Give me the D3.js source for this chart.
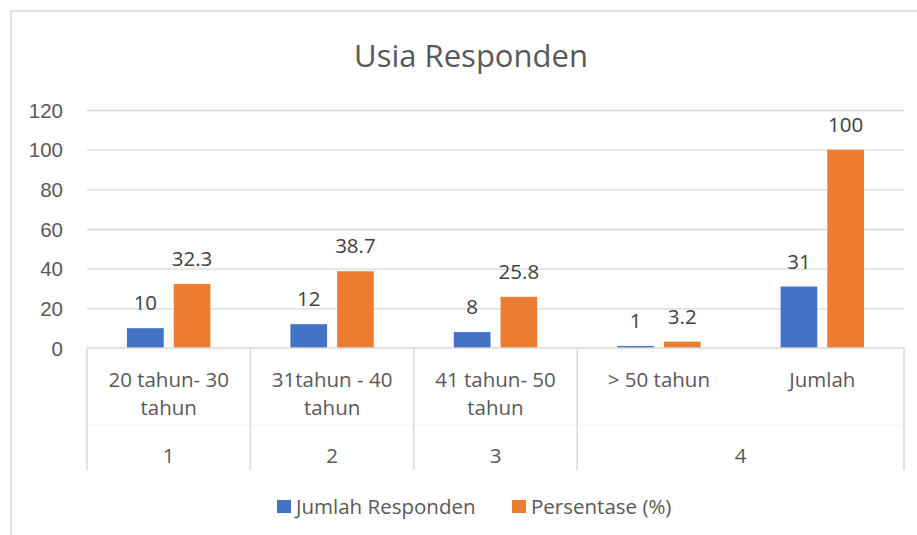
<!DOCTYPE html>
<meta charset="utf-8">
<head>
  <style>
    body { margin: 0; background: #fff; }
    svg { font-family: "Open Sans", sans-serif; }
    .grid line { stroke: #d9d9d9; stroke-width: 1.3px; }
    .grid path { display: none; }
    .yaxis text { fill: #595959; font-size: 20.5px; }
    .yaxis path, .yaxis line { display: none; }
    .cat text { fill: #595959; font-size: 20.5px; }
    .val { fill: #404040; font-size: 20.5px; }
    .legend text { fill: #595959; font-size: 20.5px; }
  </style>
  <script src="https://cdn.jsdelivr.net/npm/d3@7"></script>
</head>
<body>
  <script>
    var categories = ["20 tahun- 30|tahun", "31tahun - 40|tahun", "41 tahun- 50|tahun", "> 50 tahun", "Jumlah"]
      , groups     = ["1", "2", "3", "4", "4"]
      , jumlah     = [10, 12, 8, 1, 31]
      , persen     = [32.3, 38.7, 25.8, 3.2, 100]
      , seriesNames = ["Jumlah Responden", "Persentase (%)"]
      , colors     = ["#4472c4", "#ed7d31"]
      , yTicks     = [0, 20, 40, 60, 80, 100, 120]
      ;

    var width = 917, height = 535
      , pLeft = 87, pRight = 904, pTop = 110, pBottom = 348
      , catBottom = 470;

    var svg = d3.select("body").append("svg")
      .attr("width", width)
      .attr("height", height);

    // outer frame
    svg.append("rect")
      .attr("x", 11).attr("y", 11)
      .attr("width", 920).attr("height", 540)
      .attr("fill", "none")
      .attr("stroke", "#d9d9d9")
      .attr("stroke-width", 1.5);

    svg.append("text")
      .attr("x", 471).attr("y", 67)
      .attr("text-anchor", "middle")
      .attr("fill", "#595959")
      .style("font-size", "31px")
      .text("Usia Responden");

    var x = d3.scaleBand().domain(d3.range(categories.length)).range([pLeft, pRight]);
    var x1 = d3.scaleBand().domain(seriesNames).range([0, x.bandwidth()])
      .paddingInner(0.214).paddingOuter(0.857);
    var y = d3.scaleLinear().domain([0, 120]).range([pBottom, pTop]);

    svg.append("g").attr("class", "grid")
      .attr("transform", "translate(" + pLeft + ",0)")
      .call(d3.axisLeft(y).tickValues(yTicks.slice(1)).tickSize(-(pRight - pLeft)).tickFormat(""));

    svg.append("g").attr("class", "yaxis")
      .attr("transform", "translate(" + (pLeft - 14) + ",0)")
      .call(d3.axisLeft(y).tickValues(yTicks).tickSize(0).tickPadding(10))
      .selectAll("text").attr("dy", "0.35em");

    // bars
    var rows = categories.map(function(c, i) { return { i: i, vals: [jumlah[i], persen[i]] }; });
    var g = svg.selectAll(".grp").data(rows).enter().append("g")
      .attr("class", "grp")
      .attr("transform", function(d) { return "translate(" + x(d.i) + ",0)"; });

    g.selectAll("rect").data(function(d) { return d.vals; }).enter().append("rect")
      .attr("x", function(d, j) { return x1(seriesNames[j]); })
      .attr("y", function(d) { return y(d); })
      .attr("width", x1.bandwidth())
      .attr("height", function(d) { return pBottom - y(d); })
      .attr("fill", function(d, j) { return colors[j]; });

    g.selectAll(".val").data(function(d) { return d.vals; }).enter().append("text")
      .attr("class", "val")
      .attr("text-anchor", "middle")
      .attr("x", function(d, j) { return x1(seriesNames[j]) + x1.bandwidth() / 2; })
      .attr("y", function(d) { return y(d) - 18; })
      .text(function(d) { return d; });

    // category axis (two levels)
    var cat = svg.append("g").attr("class", "cat");
    cat.append("line")
      .attr("x1", pLeft).attr("x2", pRight).attr("y1", pBottom).attr("y2", pBottom)
      .attr("stroke", "#d9d9d9").attr("stroke-width", 1.5);
    cat.append("line")
      .attr("x1", pLeft).attr("x2", pRight).attr("y1", 425).attr("y2", 425)
      .attr("stroke", "#f4f4f4").attr("stroke-width", 1);

    [0, 1, 2, 3].forEach(function(i) {
      cat.append("line")
        .attr("x1", x(i)).attr("x2", x(i)).attr("y1", pBottom).attr("y2", catBottom)
        .attr("stroke", "#d9d9d9").attr("stroke-width", 1.5);
    });
    cat.append("line")
      .attr("x1", pRight).attr("x2", pRight).attr("y1", pBottom).attr("y2", catBottom)
      .attr("stroke", "#d9d9d9").attr("stroke-width", 1.5);

    categories.forEach(function(c, i) {
      var t = cat.append("text")
        .attr("text-anchor", "middle")
        .attr("x", x(i) + x.bandwidth() / 2)
        .attr("y", 387);
      c.split("|").forEach(function(line, k) {
        t.append("tspan")
          .attr("x", x(i) + x.bandwidth() / 2)
          .attr("dy", k ? 28 : 0)
          .text(line);
      });
    });

    // group labels
    var uniq = [];
    groups.forEach(function(gname, i) {
      var u = uniq.find(function(d) { return d.name === gname; });
      if (u) u.last = i; else uniq.push({ name: gname, first: i, last: i });
    });
    cat.selectAll(".glab").data(uniq).enter().append("text")
      .attr("class", "glab")
      .attr("text-anchor", "middle")
      .attr("x", function(d) { return (x(d.first) + x(d.last) + x.bandwidth()) / 2; })
      .attr("y", 463)
      .text(function(d) { return d.name; });

    // legend
    var legX = [277, 512];
    var leg = svg.append("g").attr("class", "legend");
    seriesNames.forEach(function(s, j) {
      leg.append("rect")
        .attr("x", legX[j]).attr("y", 500)
        .attr("width", 14).attr("height", 13)
        .attr("fill", colors[j]);
      leg.append("text")
        .attr("x", legX[j] + 19).attr("y", 514)
        .text(s);
    });
  </script>
</body>
